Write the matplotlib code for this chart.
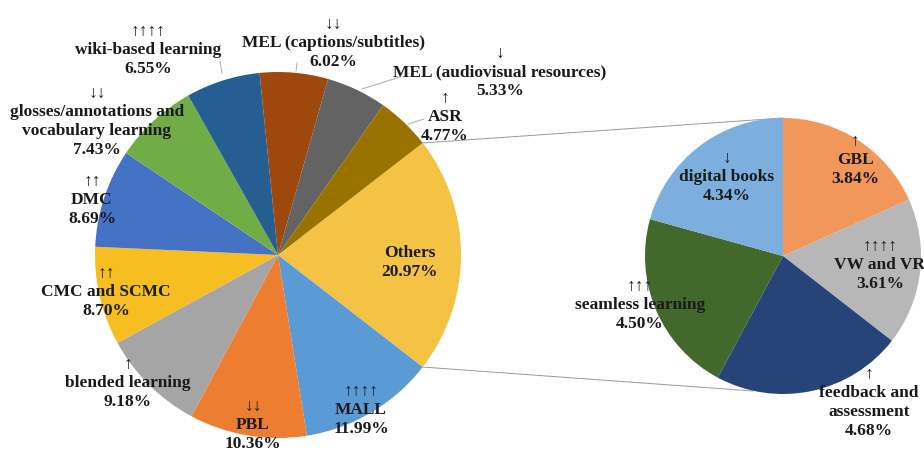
import matplotlib.pyplot as plt
import numpy as np

# main pie, clockwise from "Others"
main_labels = ['Others', 'MALL', 'PBL', 'blended learning', 'CMC and SCMC', 'DMC',
               'glosses/annotations and\nvocabulary learning', 'wiki-based learning',
               'MEL (captions/subtitles)', 'MEL (audiovisual resources)', 'ASR']
main_values = [20.97, 11.99, 10.36, 9.18, 8.70, 8.69, 7.43, 6.55, 6.02, 5.33, 4.77]
main_arrows = ['', '↑↑↑↑', '↓↓', '↑', '↑↑', '↑↑', '↓↓', '↑↑↑↑', '↓↓', '↓', '↑']
main_colors = ['#F5C343', '#5B9BD5', '#ED7D31', '#A5A5A5', '#F7BE22', '#4472C4',
               '#70AD47', '#255E91', '#9E480E', '#636363', '#997300']

# secondary pie (breakdown of Others), clockwise from 12 o'clock
sub_labels = ['GBL', 'VW and VR', 'feedback and\nassessment', 'seamless learning', 'digital books']
sub_values = [3.84, 3.61, 4.68, 4.50, 4.34]
sub_arrows = ['↑', '↑↑↑↑', '↑', '↑↑↑', '↓']
sub_colors = ['#F1975A', '#B7B7B7', '#264478', '#43682B', '#7CAFDD']

W, H = 924, 453
fig = plt.figure(figsize=(W / 100, H / 100), dpi=100)
ax = fig.add_axes([0, 0, 1, 1])

c1, r1 = (278, H - 255), 183
c2, r2 = (783, H - 256), 138

half = 180 * main_values[0] / sum(main_values)
ax.pie(main_values, colors=main_colors, center=c1, radius=r1, startangle=half,
       counterclock=False, wedgeprops=dict(linewidth=0))
ax.pie(sub_values, colors=sub_colors, center=c2, radius=r2, startangle=90,
       counterclock=False, wedgeprops=dict(linewidth=0))

# connector lines from the Others wedge to the secondary pie
t = np.radians(half)
ax.plot([c1[0] + r1 * np.cos(t), c2[0]], [c1[1] + r1 * np.sin(t), c2[1] + r2],
        color='#999999', lw=0.7, zorder=0)
ax.plot([c1[0] + r1 * np.cos(t), c2[0] - 30], [c1[1] - r1 * np.sin(t), c2[1] - r2 + 3],
        color='#999999', lw=0.7, zorder=0)

font = ['Liberation Serif', 'DejaVu Serif']
fs = 12.5
step = 19

# label positions (pixel coords of the first name line)
main_pos = [(410, 253), (361, 410), (253, 425), (128, 383), (106, 292), (92, 200),
            (97, 112), (148, 50), (333, 43), (500, 72), (445, 117)]
sub_pos = [(855, 160), (880, 265), (869, 393), (640, 305), (727, 177)]


def put_label(name, val, arrow, pos):
    x, y = pos
    lines = name.split('\n') + [f'{val:.2f}%']
    for i, s in enumerate(lines):
        ax.text(x, H - (y + i * step), s, ha='center', va='center',
                fontsize=fs, fontweight='bold', family=font, color='#1a1a1a')
    if arrow:
        ax.text(x, H - (y - 18), arrow, ha='center', va='center', fontsize=fs,
                family=font, color='#1a1a1a')


for name, val, arrow, pos in zip(main_labels, main_values, main_arrows, main_pos):
    put_label(name, val, arrow, pos)
for name, val, arrow, pos in zip(sub_labels, sub_values, sub_arrows, sub_pos):
    put_label(name, val, arrow, pos)

# leader lines
leaders = [((222, 73), (220, 61)), ((296, 71), (297, 63)),
           ((362, 89), (400, 77)), ((408, 124), (424, 119))]
for (x0, y0), (x1, y1) in leaders:
    ax.plot([x0, x1], [H - y0, H - y1], color='#aaaaaa', lw=0.7)

ax.set_xlim(0, W)
ax.set_ylim(0, H)
ax.set_aspect('equal')
ax.axis('off')

fig.savefig('out.png', dpi=100)
